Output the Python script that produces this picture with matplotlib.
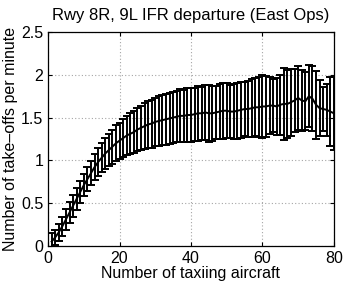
import numpy as np
import matplotlib
matplotlib.use('Agg')
import matplotlib.pyplot as plt
from matplotlib.ticker import FuncFormatter

plt.rcParams['font.family'] = ['Liberation Sans', 'DejaVu Sans']

# number of taxiing aircraft
n_taxi = np.arange(1, 81)

# mean take-off rate per minute
rate_mean = [0.05, 0.10, 0.16, 0.23, 0.31, 0.39, 0.47, 0.55, 0.63, 0.71,
             0.78, 0.85, 0.92, 0.98, 1.03, 1.08, 1.12, 1.16, 1.20, 1.23,
             1.26, 1.29, 1.31, 1.33, 1.36, 1.38, 1.40, 1.42, 1.43, 1.45,
             1.46, 1.47, 1.48, 1.49, 1.50, 1.51, 1.52, 1.52, 1.53, 1.53,
             1.54, 1.55, 1.55, 1.56, 1.55, 1.55, 1.56, 1.57, 1.58, 1.58,
             1.57, 1.57, 1.58, 1.59, 1.60, 1.60, 1.61, 1.62, 1.62, 1.63,
             1.63, 1.64, 1.64, 1.63, 1.65, 1.66, 1.66, 1.68, 1.70, 1.73,
             1.70, 1.69, 1.75, 1.72, 1.65, 1.61, 1.60, 1.59, 1.57, 1.55]

# standard deviation
rate_std = [0.10, 0.09, 0.10, 0.11, 0.12, 0.12, 0.13, 0.13, 0.13, 0.13,
            0.14, 0.14, 0.15, 0.16, 0.17, 0.18, 0.19, 0.20, 0.21, 0.21,
            0.22, 0.23, 0.24, 0.25, 0.25, 0.26, 0.27, 0.27, 0.28, 0.28,
            0.29, 0.29, 0.30, 0.30, 0.30, 0.30, 0.31, 0.30, 0.31, 0.31,
            0.31, 0.32, 0.31, 0.32, 0.33, 0.32, 0.31, 0.32, 0.33, 0.32,
            0.31, 0.32, 0.33, 0.33, 0.32, 0.33, 0.34, 0.34, 0.35, 0.37,
            0.36, 0.33, 0.31, 0.33, 0.35, 0.42, 0.40, 0.39, 0.37, 0.37,
            0.36, 0.34, 0.36, 0.38, 0.40, 0.33, 0.26, 0.30, 0.40, 0.43]

x_ticks = [0, 20, 40, 60, 80]
y_ticks = [0, 0.5, 1, 1.5, 2, 2.5]

fig = plt.figure(figsize=(3.46, 2.81), dpi=100)
ax = fig.add_axes([0.139, 0.125, 0.826, 0.761])

ax.errorbar(n_taxi, rate_mean, yerr=rate_std, color='black', linewidth=1.4,
            elinewidth=1.4, capsize=3, capthick=1.4)

ax.set_xlim(0, 80)
ax.set_ylim(0, 2.5)
ax.set_xticks(x_ticks)
ax.set_yticks(y_ticks)
ax.yaxis.set_major_formatter(FuncFormatter(lambda v, p: ('%g' % v)))
ax.grid(True, linestyle=(0, (1, 2)), color='0.65', linewidth=0.8)
ax.tick_params(direction='in', top=True, right=True, labelsize=11.5, length=3)
for s in ax.spines.values():
    s.set_linewidth(0.9)

ax.set_title('Rwy 8R, 9L IFR departure (East Ops)', fontsize=12, pad=9)
ax.set_xlabel('Number of taxiing aircraft', fontsize=11.5, labelpad=0)
ax.set_ylabel('Number of take\u2013offs per minute', fontsize=11.5, labelpad=2)

fig.savefig('out.png', dpi=100)
